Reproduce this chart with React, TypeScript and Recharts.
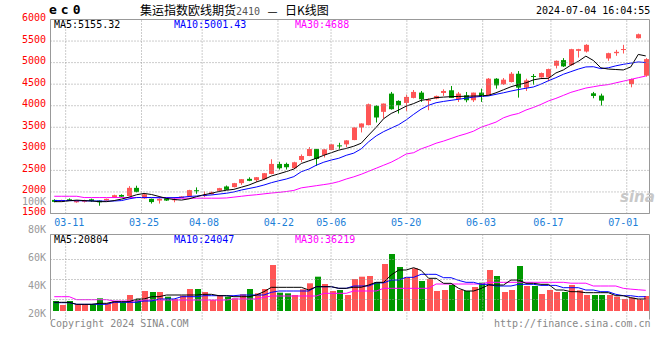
import React from 'react';
import { ComposedChart, Bar, Line, XAxis, YAxis, ReferenceLine } from 'recharts';

const dates = ['03-07','03-08','03-11','03-12','03-13','03-14','03-15','03-18','03-19','03-20','03-21','03-22','03-25','03-26','03-27','03-28','03-29','04-01','04-02','04-03','04-08','04-09','04-10','04-11','04-12','04-15','04-16','04-17','04-18','04-19','04-22','04-23','04-24','04-25','04-26','04-29','04-30','05-06','05-07','05-08','05-09','05-10','05-13','05-14','05-15','05-16','05-17','05-20','05-21','05-22','05-23','05-24','05-27','05-28','05-29','05-30','05-31','06-03','06-04','06-05','06-06','06-07','06-11','06-12','06-13','06-14','06-17','06-18','06-19','06-20','06-21','06-24','06-25','06-26','06-27','06-28','07-01','07-02','07-03','07-04'];

const opens = [1815,1790,1830,1760,1785,1830,1800,1800,1865,1930,
1905,2095,1850,1840,1800,1850,1815,1860,1897,2040,
1904,1950,2027,2127,2112,2204,2304,2273,2296,2418,
2650,2650,2550,2742,2834,2996,2857,2973,3080,3104,
3204,3496,3550,3996,3858,4281,4112,4065,4181,4304,
4112,4165,4296,4358,4150,4242,4127,4304,4242,4627,
4496,4550,4742,4419,4690,4658,4658,4927,5058,4942,
5273,5257,4288,4235,5096,5219,5300,4504,5566,4696];

const highs = [1830,1820,1850,1810,1820,1845,1805,1845,1935,1945,
2135,2145,1955,1845,1850,1855,1865,1900,2050,2105,
2010,2010,2095,2150,2210,2296,2340,2345,2440,2758,
2700,2680,2700,2870,3040,3000,2995,3110,3140,3200,
3500,3590,4050,4010,4050,4320,4125,4258,4365,4342,
4170,4235,4381,4458,4319,4319,4304,4396,4642,4640,
4642,4781,4804,4627,4735,4770,4860,5050,5104,5320,
5320,5427,4320,4280,5230,5296,5412,4630,5673,5104];

const lows = [1760,1780,1790,1750,1755,1770,1680,1795,1860,1880,
1900,1990,1840,1730,1730,1790,1760,1855,1890,1957,
1880,1940,2020,2045,2105,2165,2250,2230,2290,2410,
2520,2520,2540,2690,2830,2603,2800,2970,2990,3040,
3200,3380,3545,3611,3700,3910,3819,3873,4170,4088,
3896,4150,4227,4181,4088,4080,4088,4088,4230,4396,
4480,4540,4188,4342,4488,4650,4565,4865,4900,4930,
5118,5234,4173,4004,5042,5158,5211,4427,5560,4673];

const closes = [1770,1810,1810,1800,1795,1790,1760,1840,1925,1890,
2095,2000,1945,1765,1840,1800,1830,1895,2042,2030,
1935,1990,2088,2050,2204,2296,2258,2342,2435,2650,
2550,2573,2688,2834,2996,2765,2988,3104,3065,3196,
3496,3588,4034,3727,4050,3919,4011,4204,4320,4150,
4142,4227,4342,4181,4281,4127,4304,4204,4627,4473,
4604,4742,4419,4588,4670,4758,4850,5042,4912,5312,
5312,5412,4227,4119,5219,5250,5315,4619,5658,5081];

const ma5 = [1775,1775,1795,1810,1800,1790,1775,1775,1800,1835,
1880,1935,1965,1940,1895,1850,1825,1811,1840,1890,
1935,1970,2010,2040,2060,2110,2160,2230,2290,2370,
2420,2473,2530,2660,2720,2780,2850,2910,2970,3010,
3060,3130,3320,3500,3700,3820,3900,3990,4050,4125,
4150,4188,4200,4210,4215,4220,4225,4230,4242,4300,
4370,4440,4490,4530,4600,4630,4635,4760,4830,4942,
5030,5150,5050,4880,4850,4840,4830,4900,5190,5155];

const ma10 = [1800,1800,1800,1795,1795,1790,1790,1785,1790,1800,
1840,1870,1873,1870,1865,1865,1868,1875,1895,1905,
1920,1930,1950,1970,2000,2045,2080,2115,2160,2215,
2260,2300,2355,2470,2530,2620,2690,2740,2781,2850,
2900,3000,3165,3300,3400,3480,3560,3670,3800,3920,
4010,4070,4100,4125,4150,4175,4200,4215,4227,4265,
4300,4340,4375,4405,4435,4500,4580,4650,4730,4790,
4850,4900,4905,4860,4880,4925,4960,4988,5015,5001];

const ma30 = [1900,1900,1900,1900,1870,1870,1870,1870,1870,1870,
1870,1870,1870,1870,1870,1870,1855,1855,1855,1855,
1855,1855,1855,1860,1880,1900,1920,1935,1955,1975,
1990,2010,2035,2095,2120,2145,2170,2196,2240,2300,
2350,2410,2480,2550,2620,2690,2780,2880,2910,3000,
3060,3130,3180,3240,3300,3350,3410,3500,3560,3620,
3720,3780,3820,3900,3960,4030,4110,4170,4240,4310,
4360,4410,4440,4470,4490,4530,4570,4610,4650,4688];

const volumes = [16000,9600,16000,11200,11200,11200,20300,12300,16000,13900,
25600,19200,32000,30400,30400,22900,19200,24500,35200,35200,
30400,17600,25600,22900,20300,26700,35200,28300,35200,73600,
29300,28300,25600,34700,44300,54900,43200,32000,33600,25600,
51200,54900,56000,45900,75200,91200,70400,53900,68300,48000,
51200,32000,33600,41600,33600,32000,38400,45300,65600,56000,
30400,33600,72000,40000,40000,27200,33600,30400,30400,41600,
33100,25600,25600,25600,25600,22900,19200,21300,19200,24000];

const vma5 = [13900,13900,13900,10700,10700,10700,12300,12300,14900,14900,
14900,19200,19200,22900,22900,25600,25600,25600,25600,25600,
26700,26700,24500,24500,22900,22900,22900,25600,30900,37900,
37900,37900,37900,37900,33600,38900,38900,38900,36300,36300,
38000,38000,41600,45900,45900,57600,65600,65600,69300,65000,
52300,52300,44300,44300,36300,32000,32000,36000,41600,41600,
41600,49600,49600,44300,44300,42700,42700,33600,33600,30900,
30900,29300,29300,29300,29300,24500,24500,21300,19200,19200];

const vma10 = [13300,13300,13300,10700,10700,10700,10700,10700,13900,13900,
13900,13900,16000,16000,19200,19200,19200,22900,22900,22900,
24500,24500,24500,24500,24500,25600,25600,25600,25600,29900,
32000,32000,32000,32000,32000,38900,38900,38900,36300,36300,
40000,40000,40000,45000,45000,49600,49600,53900,53900,58700,
58700,58700,53300,53300,49000,45900,45900,42700,42700,40000,
40000,40000,42700,42700,42700,41000,41000,41000,37300,37300,
37300,33600,33600,30900,30900,26700,24500,24500,22900,22900];

const vma30 = [22900,22900,22900,18100,18100,18100,18100,18100,16000,16000,
16000,16000,17600,17600,17600,17600,17600,17600,17600,17600,
17600,17600,17600,17600,19200,19200,19200,19200,21900,24000,
24000,24000,24000,24000,24000,24000,28300,28300,28300,28300,
32000,32000,32000,32000,36300,36300,36300,36300,36300,36300,
36300,43200,43200,43200,43200,43200,43200,43200,45900,45900,
45900,45900,45900,45900,45900,45900,45900,45900,45900,44500,
44500,44500,40000,40000,40000,40000,36300,35000,34000,33100];

const xTickDates = ['03-11','03-25','04-08','04-22','05-06','05-20','06-03','06-17','07-01'];
const priceTicks = [1500,2000,2500,3000,3500,4000,4500,5000,5500,6000];
const priceGrid = [2000,2500,3000,3500,4000,4500,5000,5500];
const volTicks = [20000,40000,60000,80000,100000];
const volGridRows = [1,2,3];

const titleText = '集运指数欧线期货';
const contractText = '2410';
const dashText = '—';
const chartKindText = '日K线图';
const symbolText = 'ec0';
const timeText = '2024-07-04 16:04:55';
const priceMaLabels = ['MA5:5155.32','MA10:5001.43','MA30:4688'];
const volMaLabels = ['MA5:20804','MA10:24047','MA30:36219'];

const BORDER = '#999999';
const GRID = '#999999';
const RED = '#ff5555';
const GREEN = '#009900';
const XLBL = '#1c80d8';
const MONO = '"DejaVu Sans Mono", monospace';
const MA_COLORS = ['#000000','#0000ff','#ff00ff'];
const FIRST = dates[0];
const LAST = dates[dates.length - 1];

const rows = dates.map((d, i) => ({
  date: d,
  open: opens[i], high: highs[i], low: lows[i], close: closes[i],
  range: [lows[i], highs[i]],
  ma5: ma5[i], ma10: ma10[i], ma30: ma30[i],
  vol: volumes[i], vma5: vma5[i], vma10: vma10[i], vma30: vma30[i],
}));

const Candle = (props: any) => {
  const { x, y, width, height, payload } = props;
  if (!payload || !isFinite(y) || !isFinite(height)) return null;
  const { open, close, high, low } = payload;
  const k = height / Math.max(high - low, 1);
  const c = Math.round(x + width / 2);
  const yO = y + (high - open) * k;
  const yC = y + (high - close) * k;
  const color = close >= open ? RED : GREEN;
  const top = Math.min(yO, yC);
  const h = Math.max(Math.abs(yC - yO), 1);
  return (
    <g>
      <line x1={c + 0.5} x2={c + 0.5} y1={y} y2={y + height} stroke={color} strokeWidth={1} />
      <rect x={c - 2} y={top} width={5} height={h} fill={color} />
    </g>
  );
};

const VolBar = (props: any) => {
  const { x, y, width, height, payload } = props;
  if (!payload || !isFinite(y) || !isFinite(height)) return null;
  const c = Math.round(x + width / 2);
  const color = payload.close >= payload.open ? RED : GREEN;
  return <rect x={c - 2} y={y} width={6} height={height} fill={color} />;
};

const PriceTick = (p: any) => (
  <text x={46} y={p.y - 2} textAnchor="end" dominantBaseline="central" fill="#ff0000" fontFamily={MONO} fontSize={10}>
    {p.payload.value}
  </text>
);

const VolTick = (p: any) => (
  <text x={46} y={p.y - 1} textAnchor="end" dominantBaseline="central" fill="#999999" fontFamily={MONO} fontSize={10}>
    {Math.round(p.payload.value / 1000) + 'K'}
  </text>
);

const DateTick = (p: any) => (
  <text x={p.x} y={p.y + 9} textAnchor="middle" dominantBaseline="central" fill={XLBL} fontFamily={MONO} fontSize={10}>
    {p.payload.value}
  </text>
);

const abs = (left: number, top: number, extra: any = {}) => ({
  position: 'absolute' as const, left, top, whiteSpace: 'nowrap' as const, ...extra,
});

const gridProps = { stroke: GRID, strokeDasharray: '1 2', strokeWidth: 1 };
const frameProps = { stroke: BORDER, strokeWidth: 1 };

const PRICE_MARGIN = { top: 19.5, right: 10.5, bottom: 0, left: 0.5 };
const VOL_MARGIN = { top: 44.5, right: 10.5, bottom: 10.5, left: 0.5 };

function PriceChart() {
  return (
    <ComposedChart width={660} height={232} data={rows} margin={PRICE_MARGIN}>
      <XAxis dataKey="date" ticks={xTickDates} interval={0} height={18.5} tickLine={false} tickSize={0} tickMargin={0}
        axisLine={false} tick={<DateTick />} />
      <YAxis domain={[1500, 6000]} ticks={priceTicks} interval={0} width={50} allowDataOverflow tickLine={false}
        tickSize={0} tickMargin={0} axisLine={false} tick={<PriceTick />} />
      <Bar dataKey="range" barSize={5} shape={<Candle />} isAnimationActive={false} />
      <Line type="linear" dataKey="ma30" stroke={MA_COLORS[2]} strokeWidth={1} dot={false} isAnimationActive={false} />
      <Line type="linear" dataKey="ma10" stroke={MA_COLORS[1]} strokeWidth={1} dot={false} isAnimationActive={false} />
      <Line type="linear" dataKey="ma5" stroke={MA_COLORS[0]} strokeWidth={1} dot={false} isAnimationActive={false} />
    </ComposedChart>
  );
}

function PriceGrid() {
  return (
    <ComposedChart width={660} height={232} data={rows} margin={PRICE_MARGIN}>
      <XAxis dataKey="date" height={18.5} tick={false} tickLine={false} axisLine={{ stroke: BORDER, strokeWidth: 1 }} />
      <YAxis domain={[1500, 6000]} width={50} allowDataOverflow tick={false} tickLine={false} axisLine={{ stroke: BORDER, strokeWidth: 1 }} />
      {priceGrid.map((v) => <ReferenceLine key={'py' + v} y={v} {...gridProps} />)}
      {xTickDates.map((d) => <ReferenceLine key={'px' + d} x={d} {...gridProps} />)}
      <ReferenceLine y={6000} {...frameProps} />
      <ReferenceLine y={1500} {...frameProps} />
      <ReferenceLine x={LAST} position="end" {...frameProps} />
      <ReferenceLine x={FIRST} position="start" {...frameProps} />
    </ComposedChart>
  );
}

function VolChart() {
  return (
    <ComposedChart width={660} height={140} data={rows} margin={VOL_MARGIN}>
      <XAxis dataKey="date" interval={0} height={0} tick={false} tickLine={false} axisLine={false} />
      <YAxis yAxisId="v" domain={[-13600, 122400]} hide allowDataOverflow />
      <YAxis yAxisId="lbl" domain={[16600, 77400]} ticks={volTicks} interval={0} width={50} allowDataOverflow
        tickLine={false} tickSize={0} tickMargin={0} axisLine={false} tick={<VolTick />} />
      <Bar yAxisId="v" dataKey="vol" barSize={6} shape={<VolBar />} isAnimationActive={false} />
      <Line yAxisId="v" type="linear" dataKey="vma30" stroke={MA_COLORS[2]} strokeWidth={1} dot={false} isAnimationActive={false} />
      <Line yAxisId="v" type="linear" dataKey="vma10" stroke={MA_COLORS[1]} strokeWidth={1} dot={false} isAnimationActive={false} />
      <Line yAxisId="v" type="linear" dataKey="vma5" stroke={MA_COLORS[0]} strokeWidth={1} dot={false} isAnimationActive={false} />
    </ComposedChart>
  );
}

function VolGrid() {
  return (
    <ComposedChart width={660} height={140} data={rows} margin={VOL_MARGIN}>
      <XAxis dataKey="date" height={0} tick={false} tickLine={false} axisLine={false} />
      <YAxis domain={[0, 4.25]} width={50} allowDataOverflow tick={false} tickLine={false} axisLine={{ stroke: BORDER, strokeWidth: 1 }} />
      {volGridRows.map((v) => <ReferenceLine key={'vy' + v} y={v} {...gridProps} />)}
      {xTickDates.map((d) => <ReferenceLine key={'vx' + d} x={d} {...gridProps} />)}
      <ReferenceLine y={4.25} {...frameProps} />
      <ReferenceLine x={LAST} position="end" {...frameProps} />
      <ReferenceLine x={FIRST} position="start" {...frameProps} />
    </ComposedChart>
  );
}

export default function App() {
  return (
    <div style={{ position: 'absolute', left: 0, top: 0, width: 660, height: 360, background: '#fff' }}>
      <div style={{ position: 'absolute', left: 0, top: 0 }}>
        <div style={{ position: 'relative' }}><PriceChart /></div>
      </div>
      <div style={{ position: 'absolute', left: 0, top: 190 }}>
        <div style={{ position: 'relative' }}><VolChart /></div>
      </div>
      <div style={{ position: 'absolute', left: 0, top: 0 }}>
        <div style={{ position: 'relative' }}><PriceGrid /></div>
      </div>
      <div style={{ position: 'absolute', left: 0, top: 190 }}>
        <div style={{ position: 'relative' }}><VolGrid /></div>
      </div>

      <div style={abs(49, 2, { fontFamily: MONO, fontWeight: 'bold', fontSize: 13, letterSpacing: 4, lineHeight: '16px' })}>{symbolText}</div>
      <div style={abs(140, 2, { fontFamily: '"Noto Sans CJK SC", sans-serif', fontSize: 12, lineHeight: '16px', color: '#000' })}>
        {titleText}
        <span style={{ fontFamily: MONO, fontSize: 10, color: '#555' }}>{contractText}</span>
        <span style={{ display: 'inline-block', width: 25, textAlign: 'center', fontFamily: '"DejaVu Sans", sans-serif', fontSize: 10 }}>{dashText}</span>
        {chartKindText}
      </div>
      <div style={abs(536, 4, { fontFamily: MONO, fontSize: 10, lineHeight: '14px', color: '#000' })}>{timeText}</div>

      {priceMaLabels.map((t, i) => (
        <div key={t} style={abs([54, 174, 295][i], 20, { fontFamily: MONO, fontSize: 10, lineHeight: '10px', color: MA_COLORS[i] })}>{t}</div>
      ))}
      {volMaLabels.map((t, i) => (
        <div key={t} style={abs([54, 174, 295][i], 235, { fontFamily: MONO, fontSize: 10, lineHeight: '10px', color: MA_COLORS[i] })}>{t}</div>
      ))}

      <div style={abs(620, 188, { fontFamily: '"DejaVu Sans", sans-serif', fontSize: 15, fontWeight: 'bold', fontStyle: 'italic', color: '#c8c8c8', lineHeight: '18px' })}>sina</div>

      <div style={abs(50, 318, { fontFamily: MONO, fontSize: 10, lineHeight: '12px', color: '#888' })}>Copyright 2024 SINA.COM</div>
      <div style={abs(494, 318, { fontFamily: MONO, fontSize: 10, lineHeight: '12px', color: '#888' })}>http://finance.sina.com.cn</div>
    </div>
  );
}
